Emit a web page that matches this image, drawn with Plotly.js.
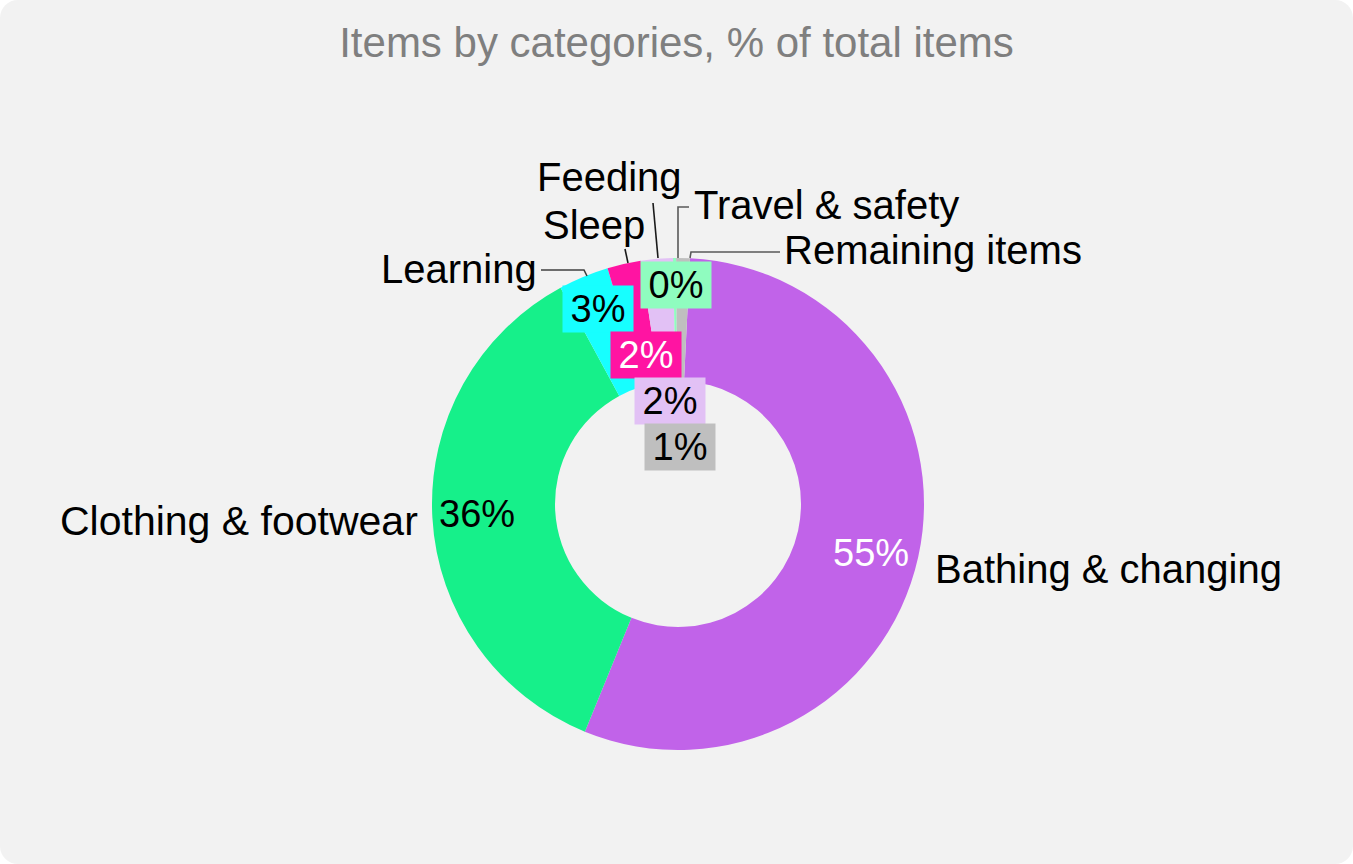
<!DOCTYPE html>
<html>
<head>
<meta charset="utf-8">
<script src="https://cdn.plot.ly/plotly-3.0.1.min.js"></script>
<style>
html, body { margin: 0; padding: 0; background: #ffffff; }
#chart { width: 1353px; height: 864px; background: #f2f2f2; border-radius: 18px; overflow: hidden; }
</style>
</head>
<body>
<div id="chart"></div>
<script>
// ---- Data ----
const categories = ["Bathing & changing", "Clothing & footwear", "Learning", "Sleep", "Feeding", "Travel & safety", "Remaining items"];
const values = [55.4, 35.9, 3.3, 2.2, 2.1, 0.2, 0.9];
const sliceColors = ["#c163e9", "#16f08a", "#17ffff", "#ff14a2", "#e2c1f5", "#8ffcbf", "#bfbfbf"];
const pctTextColors = ["#ffffff", "#000000", "#000000", "#ffffff", "#000000", "#000000", "#000000"];
const pctBoxColors = [null, null, "#17ffff", "#ff14a2", "#e2c1f5", "#8ffcbf", "#bfbfbf"];
const titleText = "Items by categories, % of total items";

// ---- Layout helpers (label placement, in page pixels) ----
const W = 1353, H = 864;
const pctPos = [[871, 553], [477, 514], [598, 309], [646, 355], [670, 401], [676, 285], [680, 447]];
const catPos = [[933, 569, "left"], [420, 521, "right"], [539, 269, "right"], [541, 225, "left"], [535, 177, "left"], [692, 205, "left"], [782, 250, "left"]];
const catSizes = [40, 41, 40, 40, 40, 40, 40];
const leaders = [
  null, null,
  [[541, 270], [584, 270], [587, 276]],
  [[625, 249], [628, 263]],
  [[653, 203], [658, 258]],
  [[689, 207], [678, 207], [678, 258]],
  [[780, 252], [691, 252], [690, 258]]
];
const leaderColors = [null, null, "#404040", "#1a1a1a", "#1a1a1a", "#595959", "#595959"];
const px = x => x / W;
const py = y => 1 - y / H;

const total = values.reduce((a, b) => a + b, 0);
const fontFam = "Liberation Sans, Arial, sans-serif";

const annotations = [];
values.forEach((v, i) => {
  const pct = Math.round(v / total * 100) + "%";
  const a = {
    text: pct, xref: "paper", yref: "paper",
    x: px(pctPos[i][0]), y: py(pctPos[i][1]),
    xanchor: "center", yanchor: "middle", showarrow: false,
    font: { family: fontFam, size: 38, color: pctTextColors[i] }
  };
  if (pctBoxColors[i]) {
    a.bgcolor = pctBoxColors[i]; a.width = 70; a.height = 46; a.borderpad = 0;
  }
  annotations.push(a);
  annotations.push({
    text: categories[i], xref: "paper", yref: "paper",
    x: px(catPos[i][0]), y: py(catPos[i][1]),
    xanchor: catPos[i][2], yanchor: "middle", showarrow: false,
    font: { family: fontFam, size: catSizes[i], color: "#000000" }
  });
});

const shapes = [];
leaders.forEach((l, i) => {
  if (!l) return;
  const path = l.map((p, j) => (j ? "L" : "M") + px(p[0]) + "," + py(p[1])).join(" ");
  shapes.push({ type: "path", xref: "paper", yref: "paper", path: path, line: { color: leaderColors[i], width: 1.6 } });
});

const cx = 678, cy = 504, R = 246;
const trace = {
  type: "pie",
  labels: categories,
  values: values,
  hole: 0.5,
  sort: false,
  direction: "clockwise",
  rotation: 2.8,
  textinfo: "none",
  marker: { colors: sliceColors, line: { width: 0 } },
  domain: { x: [(cx - R) / W, (cx + R) / W], y: [(H - cy - R) / H, (H - cy + R) / H] },
  showlegend: false
};

const layout = {
  width: W, height: H,
  margin: { l: 0, r: 0, t: 0, b: 0 },
  paper_bgcolor: "rgba(0,0,0,0)",
  plot_bgcolor: "rgba(0,0,0,0)",
  title: { text: titleText, x: 0.5, xanchor: "center", y: py(42), yanchor: "middle", font: { family: fontFam, size: 42, color: "#7f7f7f" } },
  annotations: annotations,
  shapes: shapes
};

Plotly.newPlot("chart", [trace], layout, { displayModeBar: false, staticPlot: true });
</script>
</body>
</html>
